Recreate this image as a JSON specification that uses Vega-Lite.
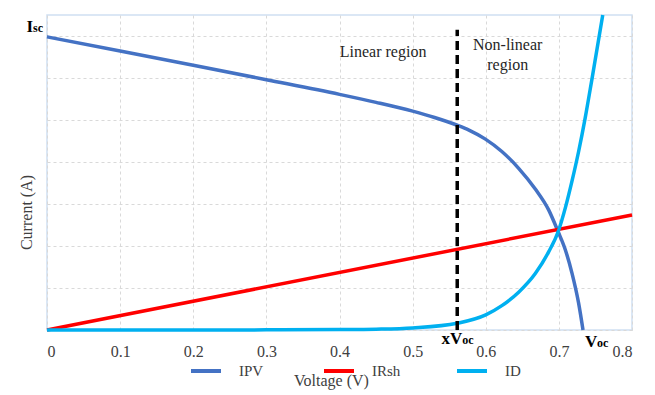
{
  "$schema": "https://vega.github.io/schema/vega-lite/v6.json",
  "width": 585,
  "height": 315,
  "autosize": {"type": "none"},
  "padding": {"left": 47, "top": 15, "right": 23, "bottom": 65},
  "background": "white",
  "config": {
    "font": "Liberation Serif",
    "view": {"stroke": "#cfe0f2", "strokeWidth": 1.5},
    "axis": {"labelFont": "Liberation Serif", "titleFont": "Liberation Serif"},
    "legend": {"labelFont": "Liberation Serif"}
  },
  "layer": [
    {
      "data": {"values": [
        {"series": "IPV", "v": 0, "i": 6.98},
        {"series": "IPV", "v": 0.1, "i": 6.645},
        {"series": "IPV", "v": 0.2, "i": 6.305},
        {"series": "IPV", "v": 0.3, "i": 5.96},
        {"series": "IPV", "v": 0.4, "i": 5.61},
        {"series": "IPV", "v": 0.45, "i": 5.42},
        {"series": "IPV", "v": 0.5, "i": 5.21},
        {"series": "IPV", "v": 0.53, "i": 5.06},
        {"series": "IPV", "v": 0.561, "i": 4.875},
        {"series": "IPV", "v": 0.577, "i": 4.76},
        {"series": "IPV", "v": 0.599, "i": 4.55},
        {"series": "IPV", "v": 0.622, "i": 4.25},
        {"series": "IPV", "v": 0.645, "i": 3.85},
        {"series": "IPV", "v": 0.668, "i": 3.35},
        {"series": "IPV", "v": 0.686, "i": 2.86},
        {"series": "IPV", "v": 0.699, "i": 2.34},
        {"series": "IPV", "v": 0.709, "i": 1.9},
        {"series": "IPV", "v": 0.718, "i": 1.35},
        {"series": "IPV", "v": 0.727, "i": 0.64},
        {"series": "IPV", "v": 0.733, "i": 0},
        {"series": "IRsh", "v": 0, "i": 0},
        {"series": "IRsh", "v": 0.8, "i": 2.74},
        {"series": "ID", "v": 0, "i": 0},
        {"series": "ID", "v": 0.2, "i": 0},
        {"series": "ID", "v": 0.3, "i": 0.003},
        {"series": "ID", "v": 0.4, "i": 0.01},
        {"series": "ID", "v": 0.45, "i": 0.02},
        {"series": "ID", "v": 0.5, "i": 0.05},
        {"series": "ID", "v": 0.561, "i": 0.16},
        {"series": "ID", "v": 0.6, "i": 0.36},
        {"series": "ID", "v": 0.622, "i": 0.58},
        {"series": "ID", "v": 0.645, "i": 0.9},
        {"series": "ID", "v": 0.668, "i": 1.35},
        {"series": "ID", "v": 0.686, "i": 1.86},
        {"series": "ID", "v": 0.699, "i": 2.34},
        {"series": "ID", "v": 0.709, "i": 2.92},
        {"series": "ID", "v": 0.718, "i": 3.55},
        {"series": "ID", "v": 0.727, "i": 4.25},
        {"series": "ID", "v": 0.736, "i": 5.05},
        {"series": "ID", "v": 0.745, "i": 5.95},
        {"series": "ID", "v": 0.76, "i": 7.5}
      ]},
      "mark": {"type": "line", "strokeWidth": 3.5, "interpolate": "monotone", "clip": false},
      "encoding": {
        "x": {
          "field": "v", "type": "quantitative",
          "scale": {"domain": [0, 0.8], "nice": false, "zero": false},
          "axis": {
            "values": [0, 0.1, 0.2, 0.3, 0.4, 0.5, 0.6, 0.7, 0.8],
            "labelExpr": "datum.value == 0 ? '0' : format(datum.value, '.1f')",
            "labelFont": "Liberation Serif",
            "labelFontSize": 16, "labelColor": "#404040", "labelPadding": 13,
            "ticks": false, "tickSize": 0, "domain": false,
            "grid": true, "gridColor": "#d9d9d9", "gridDash": [3, 3], "gridWidth": 1,
            "title": "Voltage (V)", "titleFont": "Liberation Serif", "titleFontSize": 16, "titleFontWeight": "normal",
            "titleColor": "#404040", "titlePadding": 13, "titleX": 284, "titleAlign": "center"
          }
        },
        "y": {
          "field": "i", "type": "quantitative",
          "scale": {"domain": [0, 7.5], "nice": false},
          "axis": {
            "values": [0, 1, 2, 3, 4, 5, 6, 7],
            "labels": false, "ticks": false, "domain": false,
            "grid": true, "gridColor": "#d9d9d9", "gridDash": [3, 3], "gridWidth": 1,
            "title": "Current (A)", "titleFont": "Liberation Serif", "titleFontSize": 16, "titleFontWeight": "normal",
            "titleColor": "#404040", "titleAngle": -90, "titleX": -21, "titleY": 197,
            "titleAlign": "center", "titleBaseline": "middle"
          }
        },
        "color": {
          "field": "series", "type": "nominal",
          "scale": {"domain": ["IPV", "IRsh", "ID"], "range": ["#4472C4", "#FF0000", "#00B0F0"]},
          "legend": {
            "title": null, "orient": "none", "direction": "horizontal",
            "legendX": 142, "legendY": 339, "padding": 0,
            "columns": 3, "gridAlign": "all", "columnPadding": 48,
            "symbolType": "stroke", "symbolSize": 900, "symbolStrokeWidth": 4,
            "labelFont": "Liberation Serif", "labelFontSize": 15, "labelColor": "#404040",
            "labelOffset": 16
          }
        }
      }
    },
    {
      "data": {"values": [{"v": 0.561, "i0": 0, "i1": 7.15}]},
      "mark": {"type": "rule", "color": "black", "strokeWidth": 3.5, "strokeDash": [9, 5]},
      "encoding": {
        "x": {"field": "v", "type": "quantitative"},
        "y": {"field": "i0", "type": "quantitative"},
        "y2": {"field": "i1"}
      }
    },
    {
      "data": {"values": [{"v": 0.4596, "i": 6.51, "t": "Linear region"}, {"v": 0.63, "i": 6.67, "t": "Non-linear"}, {"v": 0.63, "i": 6.19, "t": "region"}]},
      "mark": {"type": "text", "font": "Liberation Serif", "fontSize": 16, "color": "#262626", "align": "center", "baseline": "alphabetic"},
      "encoding": {
        "x": {"field": "v", "type": "quantitative"},
        "y": {"field": "i", "type": "quantitative"},
        "text": {"field": "t"}
      }
    },
    {
      "data": {"values": [{"v": 0, "i": 7.1, "t": "I"}]},
      "mark": {"type": "text", "font": "Liberation Serif", "fontSize": 17, "fontWeight": "bold", "color": "black", "align": "right", "baseline": "alphabetic", "dx": -14},
      "encoding": {
        "x": {"field": "v", "type": "quantitative"},
        "y": {"field": "i", "type": "quantitative"},
        "text": {"field": "t"}
      }
    },
    {
      "data": {"values": [{"v": 0, "i": 7.1, "t": "sc"}]},
      "mark": {"type": "text", "font": "Liberation Serif", "fontSize": 12, "fontWeight": "bold", "color": "black", "align": "right", "baseline": "alphabetic", "dx": -4},
      "encoding": {
        "x": {"field": "v", "type": "quantitative"},
        "y": {"field": "i", "type": "quantitative"},
        "text": {"field": "t"}
      }
    },
    {
      "data": {"values": [{"v": 0.561, "i": 0, "t": "xV"}]},
      "mark": {"type": "text", "font": "Liberation Serif", "fontSize": 17, "fontWeight": "bold", "color": "black", "align": "right", "baseline": "alphabetic", "dx": 5, "dy": 14},
      "encoding": {
        "x": {"field": "v", "type": "quantitative"},
        "y": {"field": "i", "type": "quantitative"},
        "text": {"field": "t"}
      }
    },
    {
      "data": {"values": [{"v": 0.561, "i": 0, "t": "oc"}]},
      "mark": {"type": "text", "font": "Liberation Serif", "fontSize": 12, "fontWeight": "bold", "color": "black", "align": "left", "baseline": "alphabetic", "dx": 5, "dy": 14},
      "encoding": {
        "x": {"field": "v", "type": "quantitative"},
        "y": {"field": "i", "type": "quantitative"},
        "text": {"field": "t"}
      }
    },
    {
      "data": {"values": [{"v": 0.733, "i": 0, "t": "V"}]},
      "mark": {"type": "text", "font": "Liberation Serif", "fontSize": 17, "fontWeight": "bold", "color": "black", "align": "left", "baseline": "alphabetic", "dx": 2, "dy": 17},
      "encoding": {
        "x": {"field": "v", "type": "quantitative"},
        "y": {"field": "i", "type": "quantitative"},
        "text": {"field": "t"}
      }
    },
    {
      "data": {"values": [{"v": 0.733, "i": 0, "t": "oc"}]},
      "mark": {"type": "text", "font": "Liberation Serif", "fontSize": 12, "fontWeight": "bold", "color": "black", "align": "left", "baseline": "alphabetic", "dx": 14, "dy": 17},
      "encoding": {
        "x": {"field": "v", "type": "quantitative"},
        "y": {"field": "i", "type": "quantitative"},
        "text": {"field": "t"}
      }
    }
  ]
}
